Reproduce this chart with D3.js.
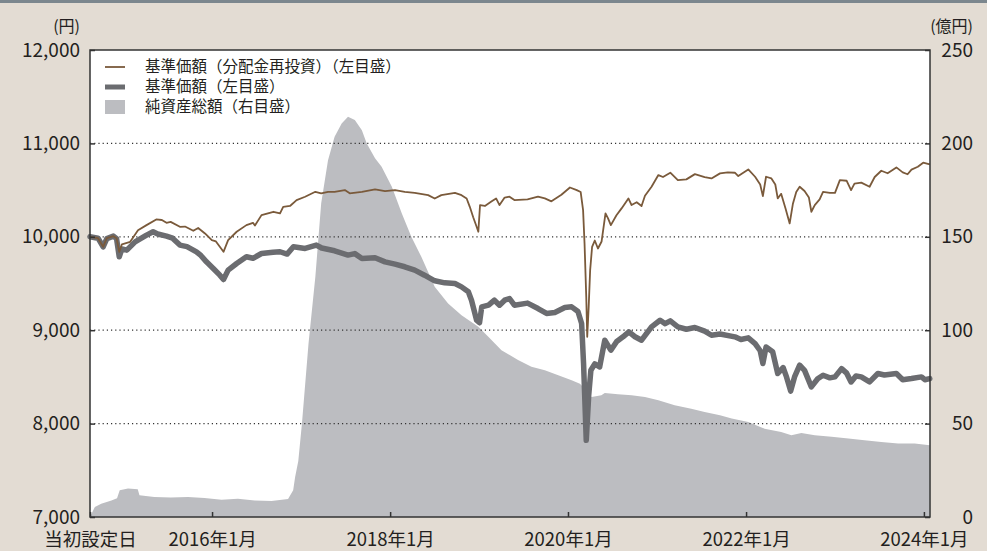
<!DOCTYPE html>
<html lang="ja">
<head>
<meta charset="utf-8">
<script src="https://cdn.jsdelivr.net/npm/d3@7"></script>
<style>
  body { margin: 0; background: #e3dcd3; }
  svg { display: block; font-family: "Noto Sans CJK JP", sans-serif; }
</style>
</head>
<body>
<svg id="chart"></svg>
<script>
// 基準価額 (dates / values)
const navDates = ["2014-08-18","2014-09-20","2014-10-11","2014-10-26","2014-11-22","2014-12-05","2014-12-16","2014-12-27","2015-01-16","2015-02-19","2015-03-10","2015-04-07","2015-05-04","2015-05-23","2015-06-28","2015-07-23","2015-08-22","2015-09-20","2015-10-29","2015-11-16","2015-12-09","2016-01-06","2016-02-02","2016-02-17","2016-03-07","2016-04-11","2016-05-21","2016-06-17","2016-07-22","2016-09-07","2016-10-06","2016-11-04","2016-11-30","2017-01-17","2017-03-04","2017-03-26","2017-05-18","2017-07-12","2017-08-09","2017-09-07","2017-10-31","2017-12-11","2018-01-21","2018-03-02","2018-04-12","2018-05-22","2018-07-03","2018-08-13","2018-09-24","2018-10-21","2018-11-18","2018-12-01","2018-12-22","2019-01-03","2019-01-12","2019-02-09","2019-03-05","2019-03-26","2019-04-16","2019-05-06","2019-05-26","2019-07-19","2019-08-31","2019-10-05","2019-11-08","2019-12-19","2020-01-16","2020-02-11","2020-02-26","2020-03-05","2020-03-16","2020-03-26","2020-04-04","2020-04-20","2020-05-10","2020-05-31","2020-06-25","2020-07-19","2020-08-14","2020-09-07","2020-10-02","2020-10-29","2020-12-09","2021-01-13","2021-02-03","2021-02-24","2021-03-27","2021-05-01","2021-06-05","2021-07-15","2021-08-12","2021-09-16","2021-11-16","2021-12-11","2022-01-10","2022-02-07","2022-02-28","2022-03-11","2022-03-24","2022-04-20","2022-05-11","2022-06-02","2022-06-16","2022-07-03","2022-07-19","2022-08-09","2022-08-29","2022-09-26","2022-10-22","2022-11-13","2022-12-11","2023-01-01","2023-01-28","2023-02-18","2023-03-08","2023-03-28","2023-04-19","2023-05-23","2023-06-26","2023-07-23","2023-09-10","2023-10-06","2023-11-11","2023-12-22","2024-01-05","2024-01-25"];
const navValues = [10000,9985,9893,9980,10007,9980,9786,9870,9857,9946,9975,10018,10054,10030,10007,9985,9911,9895,9839,9800,9732,9661,9589,9543,9643,9714,9786,9770,9821,9835,9840,9815,9893,9875,9911,9880,9850,9804,9820,9768,9775,9732,9707,9679,9643,9589,9529,9507,9500,9464,9411,9321,9107,9080,9250,9268,9321,9268,9321,9339,9268,9290,9232,9179,9190,9243,9250,9200,9071,8643,7821,8300,8571,8640,8607,8893,8786,8880,8929,8982,8930,8893,9036,9107,9070,9100,9036,9010,9029,8990,8946,8960,8929,8900,8918,8857,8780,8643,8821,8770,8536,8600,8500,8348,8500,8625,8570,8393,8480,8518,8490,8500,8589,8540,8446,8510,8500,8446,8536,8520,8536,8470,8482,8500,8470,8482];

// 基準価額（分配金再投資）
const reinvDates = ["2014-08-18","2014-09-20","2014-10-11","2014-10-26","2014-11-22","2014-12-05","2014-12-16","2014-12-27","2015-01-30","2015-03-03","2015-04-07","2015-05-17","2015-06-09","2015-06-28","2015-07-15","2015-08-22","2015-09-12","2015-10-16","2015-11-05","2015-12-03","2015-12-31","2016-01-17","2016-02-17","2016-03-07","2016-04-11","2016-05-21","2016-06-17","2016-06-25","2016-07-22","2016-09-09","2016-10-06","2016-10-19","2016-11-16","2016-12-13","2017-01-17","2017-02-28","2017-03-24","2017-04-21","2017-05-18","2017-06-29","2017-07-19","2017-09-07","2017-10-31","2017-12-11","2018-01-21","2018-03-02","2018-04-12","2018-06-06","2018-07-03","2018-07-30","2018-09-24","2018-10-21","2018-11-11","2018-11-24","2018-12-08","2018-12-22","2018-12-29","2019-01-05","2019-01-25","2019-02-22","2019-03-12","2019-03-26","2019-04-16","2019-05-06","2019-05-26","2019-07-19","2019-08-31","2019-09-28","2019-10-25","2019-12-05","2020-01-09","2020-02-06","2020-02-22","2020-03-03","2020-03-09","2020-03-16","2020-03-20","2020-03-26","2020-04-01","2020-04-09","2020-04-20","2020-05-03","2020-05-18","2020-06-03","2020-06-13","2020-06-25","2020-07-18","2020-08-08","2020-09-05","2020-09-18","2020-10-09","2020-10-29","2020-11-12","2020-12-09","2021-01-06","2021-01-25","2021-02-24","2021-03-27","2021-05-01","2021-06-05","2021-07-15","2021-08-12","2021-09-16","2021-10-18","2021-11-16","2021-11-30","2022-01-10","2022-02-07","2022-02-28","2022-03-11","2022-03-24","2022-04-15","2022-05-01","2022-05-11","2022-05-25","2022-06-12","2022-06-29","2022-07-12","2022-07-26","2022-08-09","2022-08-29","2022-09-16","2022-09-26","2022-10-10","2022-10-30","2022-11-13","2022-12-11","2023-01-01","2023-01-21","2023-02-18","2023-03-08","2023-03-22","2023-04-19","2023-05-23","2023-06-13","2023-07-10","2023-08-05","2023-09-10","2023-10-06","2023-10-26","2023-11-11","2023-12-07","2023-12-29","2024-01-25"];
const reinvValues = [10000,9985,9893,9985,10007,9985,9839,9920,9946,10071,10125,10186,10180,10150,10160,10107,10110,10064,10095,10036,9964,9950,9839,9964,10054,10125,10150,10120,10232,10268,10250,10321,10330,10393,10429,10482,10465,10482,10482,10500,10465,10482,10507,10490,10500,10482,10470,10446,10410,10446,10471,10446,10410,10321,10210,10107,10054,10340,10330,10380,10411,10340,10420,10429,10393,10400,10429,10411,10380,10450,10528,10500,10480,10286,9929,9357,8929,9250,9643,9893,9960,9875,9950,10250,10200,10125,10230,10304,10411,10340,10370,10329,10440,10536,10661,10640,10686,10607,10615,10671,10640,10625,10679,10690,10686,10650,10721,10643,10560,10436,10643,10625,10560,10411,10460,10304,10143,10350,10480,10536,10490,10420,10268,10340,10400,10482,10470,10470,10607,10600,10500,10570,10580,10536,10640,10707,10680,10743,10690,10670,10720,10750,10793,10775];

// 純資産総額（億円）
const aumDates = ["2014-08-18","2014-09-07","2014-10-03","2014-11-14","2014-12-07","2014-12-18","2015-01-21","2015-03-02","2015-03-09","2015-05-09","2015-07-16","2015-09-24","2015-12-01","2016-02-09","2016-04-16","2016-06-24","2016-09-01","2016-11-08","2016-11-29","2016-12-07","2016-12-20","2017-01-04","2017-01-31","2017-02-28","2017-03-24","2017-04-21","2017-05-18","2017-06-16","2017-07-12","2017-08-09","2017-09-07","2017-09-27","2017-10-31","2017-11-27","2018-01-08","2018-02-18","2018-03-29","2018-05-09","2018-07-03","2018-08-27","2018-10-21","2018-12-29","2019-02-09","2019-04-03","2019-06-10","2019-08-04","2019-09-28","2019-11-22","2020-01-16","2020-02-19","2020-03-03","2020-03-17","2020-04-07","2020-05-17","2020-05-31","2020-07-24","2020-09-18","2020-11-12","2021-01-06","2021-03-14","2021-05-21","2021-07-15","2021-09-16","2021-11-03","2022-01-10","2022-03-18","2022-05-25","2022-07-06","2022-08-16","2022-10-10","2022-12-18","2023-02-25","2023-05-02","2023-07-10","2023-09-17","2023-11-24","2024-01-25"];
const aumValues = [0,5.4,7.1,8.9,10,14.3,15.2,14.8,11.6,10.7,10.5,10.7,10.2,9.3,9.8,8.9,8.6,9.6,14.3,21.4,30,50,92.9,128.6,167.9,191,203.5,210.7,214.2,212.5,207,200,192,187.5,176.8,162.5,150,139.3,123.2,114.3,108,101.8,96.4,89.3,84,80.4,78.6,75.9,73.2,71.4,69.6,66,64.3,65.2,66.4,65.7,65.2,64.3,62.5,59.8,58,56.2,54.5,52.7,50.9,47.3,45.5,43.8,45,43.8,42.9,42,41.1,40.2,39.3,39.3,38.4];

const xTickDates = ["2014-08-18","2016-01-01","2018-01-01","2020-01-01","2022-01-01","2024-01-01"];
const xTickLabels = ["当初設定日","2016年1月","2018年1月","2020年1月","2022年1月","2024年1月"];
const leftTicks = [7000, 8000, 9000, 10000, 11000, 12000];
const rightTicks = [0, 50, 100, 150, 200, 250];
const legendLabels = ["基準価額（分配金再投資）（左目盛）", "基準価額（左目盛）", "純資産総額（右目盛）"];

const svgWidth = 987;
const svgHeight = 551;
const margin = { top: 50, right: 57, bottom: 34, left: 90 };
const width = svgWidth - margin.left - margin.right;
const height = svgHeight - margin.top - margin.bottom;

const parse = d3.timeParse("%Y-%m-%d");
const nav = navDates.map((d, i) => ({ date: parse(d), v: navValues[i] }));
const reinv = reinvDates.map((d, i) => ({ date: parse(d), v: reinvValues[i] }));
const aum = aumDates.map((d, i) => ({ date: parse(d), v: aumValues[i] }));

const svg = d3.select("#chart")
    .attr("width", svgWidth)
    .attr("height", svgHeight);

// top band
svg.append("rect")
    .attr("x", 0).attr("y", 0)
    .attr("width", svgWidth).attr("height", 3)
    .attr("fill", "#7c878e");

const g = svg.append("g")
    .attr("transform", `translate(${margin.left}, ${margin.top})`);

const x = d3.scaleTime()
    .domain([parse("2014-08-18"), parse("2024-01-26")])
    .range([0, width]);
const yL = d3.scaleLinear().domain([7000, 12000]).range([height, 0]);
const yR = d3.scaleLinear().domain([0, 250]).range([height, 0]);

g.append("rect")
    .attr("width", width).attr("height", height)
    .attr("fill", "#fff");

// net assets area
g.append("path")
    .datum(aum)
    .attr("fill", "#bcbdc1")
    .attr("d", d3.area()
        .x(d => x(d.date))
        .y0(height)
        .y1(d => yR(d.v)));

// dotted grid
g.selectAll(".grid")
    .data(leftTicks.slice(1, -1))
    .enter()
    .append("line")
    .attr("x1", 0).attr("x2", width)
    .attr("y1", d => yL(d)).attr("y2", d => yL(d))
    .attr("stroke", "#333")
    .attr("stroke-width", 1.2)
    .attr("stroke-dasharray", "1.2,3");

const line = d3.line()
    .x(d => x(d.date))
    .y(d => yL(d.v));

g.append("path")
    .datum(nav)
    .attr("fill", "none")
    .attr("stroke", "#6b6c70")
    .attr("stroke-width", 5.5)
    .attr("stroke-linejoin", "round")
    .attr("stroke-linecap", "round")
    .attr("d", line);

g.append("path")
    .datum(reinv)
    .attr("fill", "none")
    .attr("stroke", "#7a5a3b")
    .attr("stroke-width", 1.8)
    .attr("stroke-linejoin", "round")
    .attr("d", line);

// axes
const xAxis = d3.axisBottom(x)
    .tickValues(xTickDates.map(parse))
    .tickSize(-5)
    .tickFormat((d, i) => xTickLabels[i]);

const gx = g.append("g")
    .attr("transform", `translate(0, ${height})`)
    .call(xAxis);

const gl = g.append("g")
    .call(d3.axisLeft(yL).tickValues(leftTicks).tickSize(-5).tickPadding(10)
        .tickFormat(d3.format(",")));

const gr = g.append("g")
    .attr("transform", `translate(${width}, 0)`)
    .call(d3.axisRight(yR).tickValues(rightTicks).tickSize(-5).tickPadding(10));

gr.selectAll("text").attr("text-anchor", "end").attr("x", 43);

[gx, gl, gr].forEach(a => {
    a.select(".domain").remove();
    a.selectAll("line").attr("stroke", "#333").attr("stroke-width", 1.5);
    a.selectAll("text")
        .attr("fill", "#231f20")
        .attr("font-size", "19px")
        .attr("font-family", "'Noto Sans CJK JP', sans-serif");
});
gx.selectAll("text").attr("y", 23).attr("dy", "0.35em").attr("font-size", "18.5px");

// frame
g.append("rect")
    .attr("width", width).attr("height", height)
    .attr("fill", "none")
    .attr("stroke", "#333")
    .attr("stroke-width", 1.5);

// unit labels
svg.append("text")
    .attr("x", 80).attr("y", 26)
    .attr("dy", "0.35em")
    .attr("text-anchor", "end")
    .attr("font-size", "16px")
    .attr("fill", "#231f20")
    .text("(円)");

svg.append("text")
    .attr("x", 973).attr("y", 26)
    .attr("dy", "0.35em")
    .attr("text-anchor", "end")
    .attr("font-size", "16px")
    .attr("fill", "#231f20")
    .text("(億円)");

// legend
const legend = g.append("g").attr("transform", "translate(15, 17)");
const rowH = 20;
legend.append("line")
    .attr("x1", 0).attr("x2", 20).attr("y1", 0).attr("y2", 0)
    .attr("stroke", "#7a5a3b").attr("stroke-width", 1.8);
legend.append("line")
    .attr("x1", 0).attr("x2", 20).attr("y1", rowH).attr("y2", rowH)
    .attr("stroke", "#6b6c70").attr("stroke-width", 5);
legend.append("rect")
    .attr("x", 0).attr("y", rowH * 2 - 7).attr("width", 20).attr("height", 14)
    .attr("fill", "#bcbdc1");
legend.selectAll(".lg")
    .data(legendLabels)
    .enter()
    .append("text")
    .attr("x", 40)
    .attr("y", (d, i) => i * rowH)
    .attr("dy", "0.35em")
    .attr("font-size", "15.5px")
    .attr("fill", "#231f20")
    .text(d => d);
</script>
</body>
</html>
